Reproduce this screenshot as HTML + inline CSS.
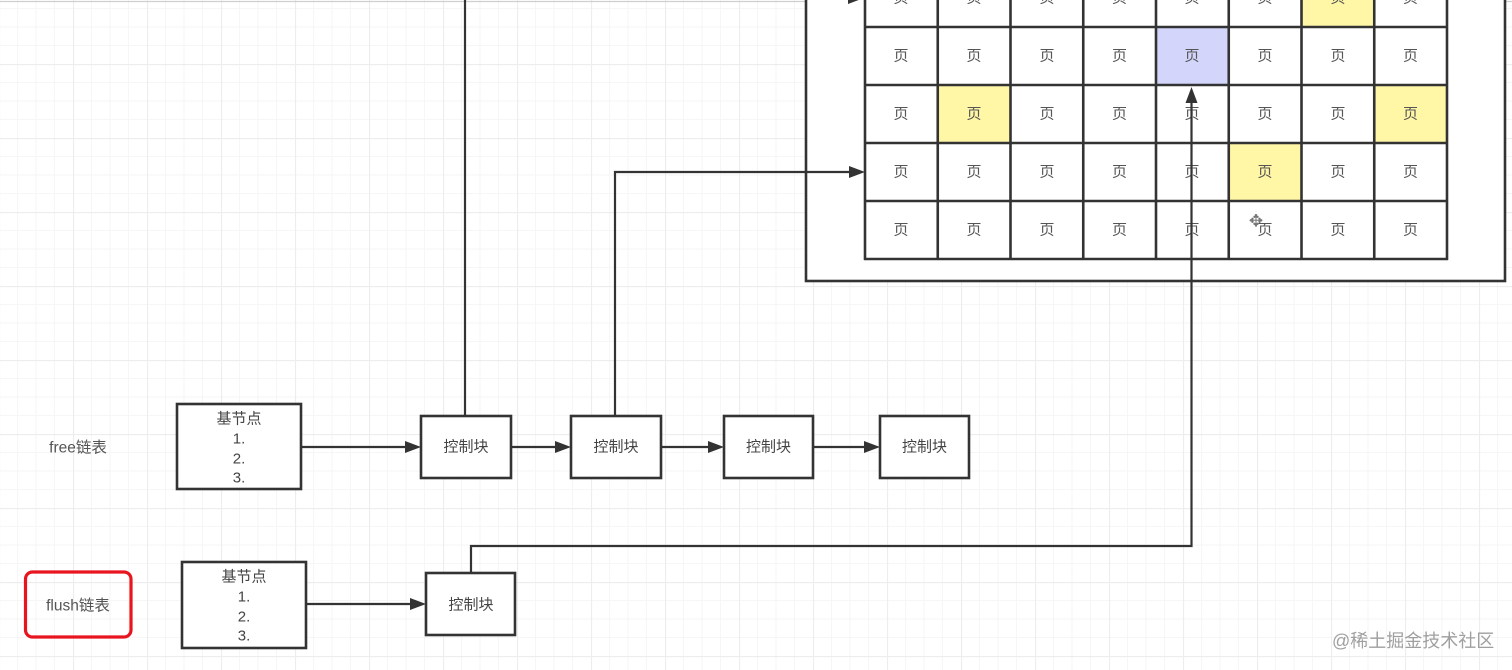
<!DOCTYPE html>
<html>
<head>
<meta charset="utf-8">
<style>
  html,body{margin:0;padding:0;background:#fff;}
  body{width:1512px;height:670px;overflow:hidden;}
  svg{display:block;}
  text{font-family:"Liberation Sans","Noto Sans CJK SC",sans-serif;}
</style>
</head>
<body>
<svg width="1512" height="670" viewBox="0 0 1512 670" xmlns="http://www.w3.org/2000/svg">
  <defs>
    <pattern id="grid" x="-1" y="64" width="74" height="74" patternUnits="userSpaceOnUse">
      <rect width="74" height="74" fill="#ffffff"/>
      <g stroke="#f6f6f6" stroke-width="1">
        <line x1="18.5" y1="0" x2="18.5" y2="74"/>
        <line x1="37" y1="0" x2="37" y2="74"/>
        <line x1="55.5" y1="0" x2="55.5" y2="74"/>
        <line x1="0" y1="18.5" x2="74" y2="18.5"/>
        <line x1="0" y1="37" x2="74" y2="37"/>
        <line x1="0" y1="55.5" x2="74" y2="55.5"/>
      </g>
      <g stroke="#ededed" stroke-width="1.2">
        <line x1="0.5" y1="0" x2="0.5" y2="74"/>
        <line x1="0" y1="0.5" x2="74" y2="0.5"/>
      </g>
    </pattern>
  </defs>

  <rect x="0" y="0" width="1512" height="670" fill="url(#grid)"/>
  <line x1="0" y1="1.5" x2="1512" y2="1.5" stroke="#cfcfcf" stroke-width="1.2"/>

  <!-- outer container -->
  <rect x="806" y="-20" width="699" height="301" fill="#ffffff" stroke="#333" stroke-width="2.6"/>

  <!-- cell fills -->
  <rect x="1301.5" y="-31" width="72.75" height="58" fill="#fff6a6"/>
  <rect x="1156" y="27" width="72.75" height="58" fill="#d3d5fb"/>
  <rect x="937.75" y="85" width="72.75" height="58" fill="#fff6a6"/>
  <rect x="1374.25" y="85" width="72.75" height="58" fill="#fff6a6"/>
  <rect x="1228.75" y="143" width="72.75" height="58" fill="#fff6a6"/>

  <!-- table lines -->
  <g stroke="#333" stroke-width="2.6" fill="none">
    <line x1="865" y1="-10" x2="865" y2="260"/>
    <line x1="937.75" y1="-10" x2="937.75" y2="260"/>
    <line x1="1010.5" y1="-10" x2="1010.5" y2="260"/>
    <line x1="1083.25" y1="-10" x2="1083.25" y2="260"/>
    <line x1="1156" y1="-10" x2="1156" y2="260"/>
    <line x1="1228.75" y1="-10" x2="1228.75" y2="260"/>
    <line x1="1301.5" y1="-10" x2="1301.5" y2="260"/>
    <line x1="1374.25" y1="-10" x2="1374.25" y2="260"/>
    <line x1="1447" y1="-10" x2="1447" y2="260"/>
    <line x1="864" y1="27" x2="1448" y2="27"/>
    <line x1="864" y1="85" x2="1448" y2="85"/>
    <line x1="864" y1="143" x2="1448" y2="143"/>
    <line x1="864" y1="201" x2="1448" y2="201"/>
    <line x1="864" y1="259" x2="1448" y2="259"/>
  </g>

  <!-- cell text -->
  <g font-size="15" fill="#555" text-anchor="middle" dominant-baseline="central">
    <text x="901" y="-2">页</text><text x="974" y="-2">页</text><text x="1047" y="-2">页</text><text x="1119.5" y="-2">页</text><text x="1192" y="-2">页</text><text x="1265" y="-2">页</text><text x="1338" y="-2">页</text><text x="1410.5" y="-2">页</text>
    <text x="901" y="56">页</text><text x="974" y="56">页</text><text x="1047" y="56">页</text><text x="1119.5" y="56">页</text><text x="1192" y="56">页</text><text x="1265" y="56">页</text><text x="1338" y="56">页</text><text x="1410.5" y="56">页</text>
    <text x="901" y="114">页</text><text x="974" y="114">页</text><text x="1047" y="114">页</text><text x="1119.5" y="114">页</text><text x="1192" y="114">页</text><text x="1265" y="114">页</text><text x="1338" y="114">页</text><text x="1410.5" y="114">页</text>
    <text x="901" y="172">页</text><text x="974" y="172">页</text><text x="1047" y="172">页</text><text x="1119.5" y="172">页</text><text x="1192" y="172">页</text><text x="1265" y="172">页</text><text x="1338" y="172">页</text><text x="1410.5" y="172">页</text>
    <text x="901" y="230">页</text><text x="974" y="230">页</text><text x="1047" y="230">页</text><text x="1119.5" y="230">页</text><text x="1192" y="230">页</text><text x="1265" y="230">页</text><text x="1338" y="230">页</text><text x="1410.5" y="230">页</text>
  </g>

  <!-- connectors -->
  <g stroke="#333" stroke-width="2.2" fill="none">
    <line x1="465" y1="416" x2="465" y2="-10"/>
    <polyline points="615,416 615,172 850,172"/>
    <polyline points="471,573 471,546 1191.5,546 1191.5,100"/>
    <line x1="301" y1="447" x2="406" y2="447"/>
    <line x1="511" y1="447" x2="556" y2="447"/>
    <line x1="661" y1="447" x2="709" y2="447"/>
    <line x1="813" y1="447" x2="865" y2="447"/>
    <line x1="306" y1="604" x2="411" y2="604"/>
  </g>
  <g fill="#333">
    <polygon points="864,-2 848,-8 848,4"/>
    <polygon points="865,172 849,166 849,178"/>
    <polygon points="1191.5,87 1185.5,103 1197.5,103"/>
    <polygon points="421,447 405,441 405,453"/>
    <polygon points="571,447 555,441 555,453"/>
    <polygon points="724,447 708,441 708,453"/>
    <polygon points="880,447 864,441 864,453"/>
    <polygon points="426,604 410,598 410,610"/>
  </g>

  <!-- move cursor -->
  <text x="1256" y="221" font-size="17" fill="#777" text-anchor="middle" dominant-baseline="central">✥</text>

  <!-- free list -->
  <text x="78" y="448" font-size="15.5" fill="#555" text-anchor="middle" dominant-baseline="central">free链表</text>
  <rect x="177" y="404" width="124" height="85" fill="#fff" stroke="#333" stroke-width="2.6"/>
  <g font-size="15" fill="#444" text-anchor="middle" dominant-baseline="central">
    <text x="239" y="419">基节点</text>
    <text x="239" y="439">1.</text>
    <text x="239" y="459">2.</text>
    <text x="239" y="478">3.</text>
  </g>
  <g stroke="#333" stroke-width="2.6" fill="#fff">
    <rect x="421" y="416" width="90" height="62"/>
    <rect x="571" y="416" width="90" height="62"/>
    <rect x="724" y="416" width="89" height="62"/>
    <rect x="880" y="416" width="89" height="62"/>
  </g>
  <g font-size="15" fill="#444" text-anchor="middle" dominant-baseline="central">
    <text x="466" y="447">控制块</text>
    <text x="616" y="447">控制块</text>
    <text x="768.5" y="447">控制块</text>
    <text x="924.5" y="447">控制块</text>
  </g>

  <!-- flush list -->
  <rect x="25.5" y="572" width="105.5" height="65" rx="7" ry="7" fill="none" stroke="#e8141e" stroke-width="3.2"/>
  <text x="78" y="606" font-size="15.5" fill="#555" text-anchor="middle" dominant-baseline="central">flush链表</text>
  <rect x="182" y="562" width="124" height="86" fill="#fff" stroke="#333" stroke-width="2.6"/>
  <g font-size="15" fill="#444" text-anchor="middle" dominant-baseline="central">
    <text x="244" y="577">基节点</text>
    <text x="244" y="597">1.</text>
    <text x="244" y="617">2.</text>
    <text x="244" y="636">3.</text>
  </g>
  <rect x="426" y="573" width="89" height="62" fill="#fff" stroke="#333" stroke-width="2.6"/>
  <text x="471" y="605" font-size="15" fill="#444" text-anchor="middle" dominant-baseline="central">控制块</text>

  <!-- watermark -->
  <text x="1332" y="641" font-size="18" fill="#9f9f9f" dominant-baseline="central">@稀土掘金技术社区</text>
</svg>
</body>
</html>
